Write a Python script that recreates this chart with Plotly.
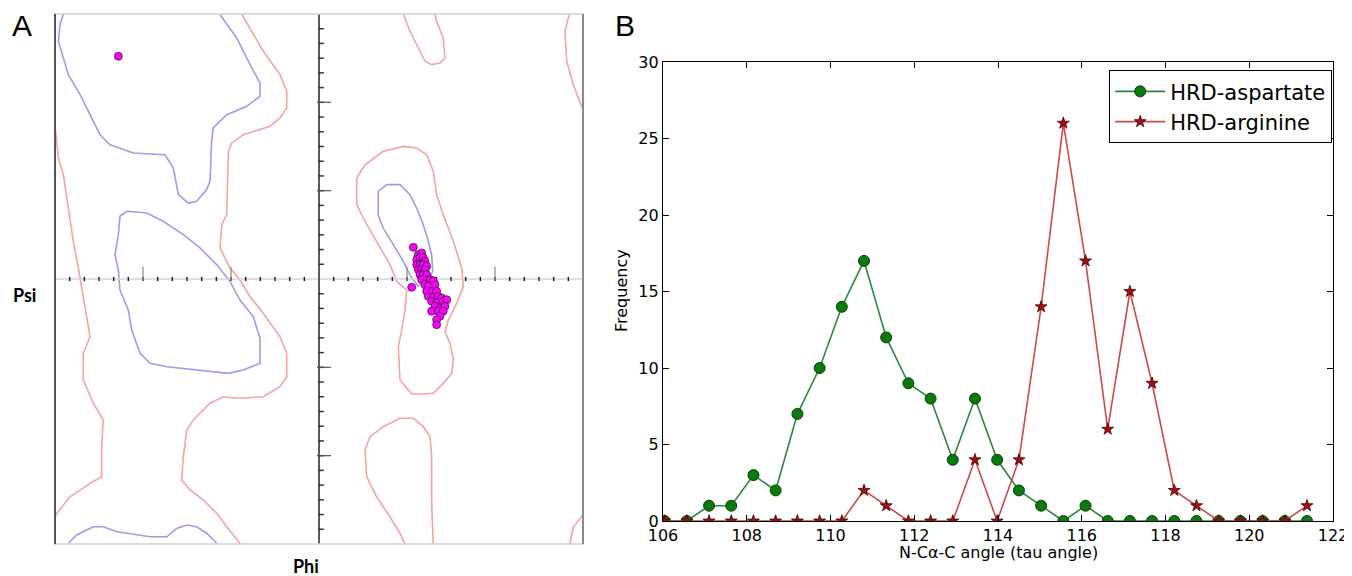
import plotly.graph_objects as go

# ---------------- Panel B data ----------------
tau_angle = [106.04, 106.57, 107.10, 107.63, 108.16, 108.69, 109.21, 109.74, 110.27, 110.80,
             111.33, 111.86, 112.39, 112.92, 113.45, 113.98, 114.50, 115.03, 115.56, 116.09,
             116.62, 117.15, 117.68, 118.21, 118.74, 119.27, 119.79, 120.32, 120.85, 121.38]
hrd_aspartate = [0, 0, 1, 1, 3, 2, 7, 10, 14, 17,
                 12, 9, 8, 4, 8, 4, 2, 1, 0, 1,
                 0, 0, 0, 0, 0, 0, 0, 0, 0, 0]
hrd_arginine = [0, 0, 0, 0, 0, 0, 0, 0, 0, 2,
                1, 0, 0, 0, 4, 0, 4, 14, 26, 17,
                6, 15, 9, 2, 1, 0, 0, 0, 0, 1]
b_xticks = [106, 108, 110, 112, 114, 116, 118, 120, 122]
b_yticks = [0, 5, 10, 15, 20, 25, 30]

# ---------------- Panel A data (phi, psi in degrees) ----------------
phi_obs = [64.3, 67.7, 70.0, 66.6, 68.9, 71.1, 72.3, 66.6, 68.9, 71.1, 73.4, 67.7, 70.0, 72.3,
           68.9, 71.1, 73.4, 70.0, 73.4, 75.7, 77.9, 79.1, 63.2, 72.3, 74.5, 73.4, 76.8, 80.2,
           74.5, 77.9, 81.3, 83.7, 76.8, 80.2, 84.7, 87.1, 79.1, 82.5, 85.9, 76.8, 81.3, 84.7,
           82.5, 80.2, 80.2, -136.8]
psi_obs = [21.5, 16.5, 17.7, 13.1, 14.3, 14.3, 12.0, 9.7, 9.7, 9.7, 8.6, 6.3, 6.3, 6.3,
           2.9, 2.9, 2.9, -0.5, -0.5, -0.5, -1.2, -3.9, -5.6, -3.9, -5.0, -8.4, -8.4, -8.4,
           -11.8, -12.4, -11.8, -12.9, -15.1, -16.3, -15.1, -14.1, -18.5, -19.7, -18.5, -21.9, -21.9, -21.9,
           -25.3, -27.6, -31.0, 151.3]

blue_beta = [(-174.3, 180.0), (-176.6, 172.7), (-177.7, 161.5), (-174.3, 150.1), (-170.9, 138.8),
             (-162.9, 125.2), (-156.1, 111.6), (-149.3, 98.0), (-142.5, 91.2), (-126.6, 85.6),
             (-105.0, 84.4), (-99.3, 75.4), (-95.9, 57.3), (-89.1, 51.6), (-83.4, 52.8),
             (-76.6, 60.7), (-74.3, 66.4), (-73.2, 93.5), (-72.1, 102.6), (-62.9, 111.6),
             (-49.3, 117.3), (-40.2, 124.1), (-40.2, 133.1), (-47.0, 145.6), (-56.1, 163.7),
             (-67.5, 179.5)]
blue_alpha = [(-131.1, 46.0), (-117.5, 44.8), (-106.2, 39.2), (-92.5, 30.1), (-81.1, 21.1),
              (-69.7, 9.7), (-60.7, -1.6), (-53.9, -14.3), (-44.8, -25.6), (-40.2, -40.3),
              (-40.2, -57.3), (-51.6, -61.8), (-61.8, -64.1), (-92.5, -60.7), (-103.8, -59.6),
              (-115.2, -57.3), (-122.0, -50.5), (-127.7, -34.6), (-130.0, -21.1), (-135.7, -7.5),
              (-136.8, 6.1), (-139.1, 16.5), (-136.8, 30.1), (-135.7, 42.6), (-131.1, 46.0)]
blue_bottom = [(-170.9, -179.5), (-165.2, -173.9), (-153.9, -168.3), (-147.1, -168.3),
               (-137.9, -171.7), (-124.3, -173.9), (-115.2, -175.1), (-103.8, -175.1),
               (-97.0, -169.4), (-90.2, -167.1), (-83.4, -168.3), (-76.6, -172.7), (-69.7, -179.5)]
blue_left_handed = [(40.4, 59.6), (46.2, 64.1), (55.2, 64.1), (62.0, 57.3), (66.6, 48.2),
                    (71.1, 36.9), (74.5, 25.6), (76.8, 16.5), (77.5, 5.2), (74.3, -2.0),
                    (67.5, -4.8), (62.0, 2.9), (57.5, 12.0), (50.7, 23.3), (43.8, 34.6),
                    (40.4, 43.7), (40.4, 59.6)]

pink_right_of_left = [(-52.7, 180.0), (-47.0, 170.5), (-38.0, 154.7), (-26.6, 138.8), (-22.0, 127.5),
                      (-22.0, 116.2), (-26.6, 109.4), (-33.4, 103.7), (-51.6, 98.0), (-59.5, 92.4),
                      (-61.8, 86.7), (-62.9, 43.7), (-66.3, 36.9), (-67.5, 21.1), (-60.7, 7.5),
                      (-53.9, -0.7), (-47.0, -12.0), (-38.0, -23.3), (-26.6, -39.2), (-22.0, -50.5),
                      (-22.0, -66.4), (-26.6, -73.2), (-38.0, -80.0), (-56.1, -81.0), (-65.2, -80.0),
                      (-74.3, -84.4), (-85.7, -95.8), (-90.2, -102.6), (-92.5, -120.7), (-93.6, -136.5),
                      (-88.0, -143.3), (-78.9, -150.1), (-69.7, -159.2), (-62.9, -168.3), (-53.9, -179.5)]
pink_left = [(-180.0, 180.0), (-180.0, 104.8), (-177.7, 82.2), (-174.3, 70.9), (-170.9, 48.2),
             (-167.5, 25.6), (-164.1, 7.5), (-161.8, -6.1), (-160.7, -14.3), (-158.4, -27.9),
             (-156.1, -39.2), (-160.7, -50.5), (-160.7, -68.6), (-153.9, -84.4), (-147.1, -95.8),
             (-148.2, -113.9), (-148.2, -134.3), (-156.1, -138.8), (-169.8, -147.9),
             (-178.8, -159.2), (-180.0, -161.5)]
pink_top_right = [(57.5, 180.0), (62.0, 168.3), (66.6, 159.2), (72.3, 147.9), (76.8, 145.6),
                  (82.5, 146.7), (85.9, 150.1), (84.7, 163.7), (80.2, 175.1), (79.1, 180.0)]
pink_corner_top = [(171.1, 180.0), (170.0, 177.3), (167.7, 168.3), (168.9, 147.9), (173.4, 132.0),
                   (178.4, 118.4), (180.0, 115.0)]
pink_left_handed = [(25.7, 68.6), (31.4, 77.6), (43.8, 86.7), (57.5, 90.1), (66.6, 89.0),
                    (73.4, 84.4), (77.9, 73.2), (80.2, 57.3), (84.7, 43.7), (91.6, 25.6),
                    (97.3, 7.5), (98.4, -5.2), (93.9, -16.5), (88.2, -27.9), (85.9, -35.8),
                    (89.3, -43.7), (91.6, -55.0), (90.5, -64.1), (84.7, -70.9), (77.9, -77.6),
                    (71.1, -78.1), (63.2, -78.1), (55.2, -68.6), (54.1, -46.0), (56.4, -34.6),
                    (58.6, -21.1), (59.8, -7.5), (53.0, -1.6), (48.4, 9.7), (39.3, 25.6),
                    (31.4, 39.2), (25.7, 50.5), (25.7, 68.6)]
pink_bottom_right = [(58.6, -180.0), (55.2, -172.7), (48.4, -161.5), (39.3, -147.9), (32.5, -134.3),
                     (31.4, -116.2), (34.8, -107.1), (43.8, -100.3), (55.2, -94.6), (64.3, -94.6),
                     (71.1, -100.3), (75.7, -107.1), (76.8, -120.7), (76.8, -152.4), (77.9, -180.0)]
pink_corner_bottom = [(171.1, -180.0), (173.4, -168.3), (179.1, -161.5), (180.0, -160.0)]

rama_minor_ticks = [-170, -160, -150, -140, -130, -120, -110, -100, -90, -80, -70, -60, -50, -40,
                    -30, -20, -10, 10, 20, 30, 40, 50, 60, 70, 80, 90, 100, 110, 120, 130, 140,
                    150, 160, 170]
rama_major_ticks = [-120, -60, 60, 120]

BLUE = "#9d9de8"
PINK = "#f5a3a3"

fig = go.Figure()

def add_path(pts, color):
    fig.add_trace(go.Scatter(x=[p[0] for p in pts], y=[p[1] for p in pts], mode="lines",
                             line=dict(color=color, width=1.6), xaxis="x", yaxis="y",
                             showlegend=False, hoverinfo="skip"))

for c in [pink_right_of_left, pink_left, pink_top_right, pink_corner_top, pink_left_handed,
          pink_bottom_right, pink_corner_bottom]:
    add_path(c, PINK)
for c in [blue_beta, blue_alpha, blue_bottom, blue_left_handed]:
    add_path(c, BLUE)

# psi = 0 line and phi = 0 line
fig.add_trace(go.Scatter(x=[-180, 180], y=[0, 0], mode="lines", line=dict(color="#d4d4d4", width=1.6),
                         xaxis="x", yaxis="y", showlegend=False, hoverinfo="skip"))
fig.add_trace(go.Scatter(x=[0, 0], y=[-180, 180], mode="lines", line=dict(color="#5a5a5a", width=2),
                         xaxis="x", yaxis="y", showlegend=False, hoverinfo="skip"))
# ticks on psi = 0 line
fig.add_trace(go.Scatter(x=rama_minor_ticks, y=[0] * len(rama_minor_ticks), mode="markers",
                         marker=dict(symbol="line-ns", size=3, line=dict(color="#222", width=1.5)),
                         xaxis="x", yaxis="y", showlegend=False, hoverinfo="skip"))
fig.add_trace(go.Scatter(x=rama_major_ticks, y=[3.5] * len(rama_major_ticks), mode="markers",
                         marker=dict(symbol="line-ns", size=10, line=dict(color="#888", width=1.2)),
                         xaxis="x", yaxis="y", showlegend=False, hoverinfo="skip"))
# ticks on phi = 0 line
fig.add_trace(go.Scatter(x=[1.4] * len(rama_minor_ticks), y=rama_minor_ticks, mode="markers",
                         marker=dict(symbol="line-ew", size=4, line=dict(color="#333", width=1.5)),
                         xaxis="x", yaxis="y", showlegend=False, hoverinfo="skip"))
fig.add_trace(go.Scatter(x=[3.4] * len(rama_major_ticks), y=rama_major_ticks, mode="markers",
                         marker=dict(symbol="line-ew", size=10, line=dict(color="#555", width=1.2)),
                         xaxis="x", yaxis="y", showlegend=False, hoverinfo="skip"))

# observations
fig.add_trace(go.Scatter(x=phi_obs, y=psi_obs, mode="markers",
                         marker=dict(color="#ff00ff", size=8, line=dict(color="#222", width=0.7)),
                         xaxis="x", yaxis="y", showlegend=False, hoverinfo="skip"))

# Panel B traces
fig.add_trace(go.Scatter(x=tau_angle, y=hrd_aspartate, mode="lines+markers", name="HRD-aspartate",
                         line=dict(color="#2e8540", width=1.6),
                         marker=dict(symbol="circle", size=11, color="#0a7a0a", line=dict(color="#0b3d0b", width=1)),
                         xaxis="x2", yaxis="y2"))
fig.add_trace(go.Scatter(x=tau_angle, y=hrd_arginine, mode="lines+markers", name="HRD-arginine",
                         line=dict(color="#cc4a4a", width=1.6),
                         marker=dict(symbol="star", size=9, color="#a01010", line=dict(color="#4a0000", width=0.8)),
                         xaxis="x2", yaxis="y2"))

# the page body keeps an 8px margin, so the figure is 8px smaller than the window
OFF = 8
W, H = 1352 - OFF, 576 - OFF
def px(x):
    return (x - OFF) / W
def py(y):
    return 1 - (y - OFF) / H

axis_b = dict(showgrid=False, zeroline=False, showline=True, linecolor="black", linewidth=1.2,
              mirror="ticks", ticks="inside", ticklen=6, tickcolor="black", automargin=False,
              ticklabeloverflow="allow",
              tickfont=dict(family="DejaVu Sans", size=16, color="black"))

def label(text, x, y, size, family, angle=0):
    return dict(text=text, x=px(x), y=py(y), xref="paper", yref="paper", showarrow=False,
                xanchor="center", yanchor="middle", textangle=angle,
                font=dict(family=family, size=size, color="black"))

fig.update_layout(
    width=W, height=H, margin=dict(l=0, r=0, t=0, b=0, pad=0, autoexpand=False),
    paper_bgcolor="white", plot_bgcolor="white",
    xaxis=dict(domain=[px(55), px(583)], range=[-180, 180], visible=False, anchor="y", automargin=False),
    yaxis=dict(domain=[py(544), py(14)], range=[-180, 180], visible=False, anchor="x", automargin=False),
    xaxis2=dict(domain=[px(663), px(1333)], range=[106, 122], tickvals=b_xticks, anchor="y2", **axis_b),
    yaxis2=dict(domain=[py(521), py(62)], range=[0, 30], tickvals=b_yticks, anchor="x2", **axis_b),
    legend=dict(x=px(1332), y=py(70), xanchor="right", yanchor="top", bgcolor="white",
                bordercolor="black", borderwidth=1.2,
                font=dict(family="DejaVu Sans", size=21, color="black"),
                itemwidth=50, tracegroupgap=2),
    shapes=[
        dict(type="rect", xref="x domain", yref="y domain", x0=0, x1=1, y0=0, y1=1,
             line=dict(color="#d0d0d0", width=1.5)),
        dict(type="line", xref="x domain", yref="y domain", x0=0, x1=0, y0=0, y1=1,
             line=dict(color="#555555", width=2)),
        dict(type="line", xref="x domain", yref="y domain", x0=1, x1=1, y0=0, y1=1,
             line=dict(color="#8a8a8a", width=2)),
    ],
    annotations=[
        label("A", 22, 25, 30, "Liberation Sans"),
        label("B", 625, 25, 30, "Liberation Sans"),
        label("<b>Psi</b>", 24, 295, 18, "Lato"),
        label("<b>Phi</b>", 306, 566, 18, "Lato"),
        label("Frequency", 622, 291, 16, "DejaVu Sans", -90),
        label("N-Cα-C angle (tau angle)", 998, 552, 16, "DejaVu Sans"),
    ],
)

fig.write_html("out.html", config={"displayModeBar": False})
